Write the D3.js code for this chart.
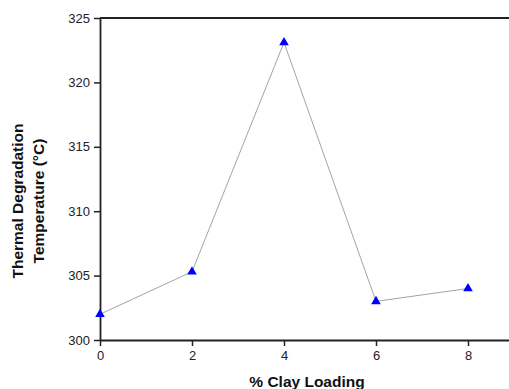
<!DOCTYPE html>
<html lang="en">
  <head>
    <meta charset="utf-8">
    <title>Thermal Degradation vs Clay Loading</title>
    <style>
      body { margin: 0; background: #fff; }
      svg { display: block; }
      .tick text { font-family: "Liberation Sans", Arial, sans-serif; font-size: 13px; fill: #222; }
      .axis-title { font-family: "Liberation Sans", Arial, sans-serif; font-weight: bold; fill: #111; }
    </style>
    <script src="https://d3js.org/d3.v7.min.js"></script>
  </head>
  <body>
    <script>
    const clayLoading = [0, 2, 4, 6, 8];
    const degradationTemp = [302.0, 305.3, 323.1, 303.0, 304.0];
    const xTicks = [0, 2, 4, 6, 8];
    const yTicks = [300, 305, 310, 315, 320, 325];

    const width = 509, height = 389;

    const svg = d3.select("body")
                  .append("svg")
                  .attr("width", width)
                  .attr("height", height)

    const x = d3.scaleLinear().domain([0, 9]).range([100, 514])
    const y = d3.scaleLinear().domain([300, 325]).range([340, 18])

    // top frame line
    svg.append("line")
      .attr("x1", x(0)).attr("x2", width)
      .attr("y1", y(325)).attr("y2", y(325))
      .attr("stroke", "#222")
      .attr("stroke-width", 1.8)

    const xAxis = svg.append("g")
      .attr("transform", `translate(0,${y(300)})`)
      .call(d3.axisBottom(x).tickValues(xTicks).tickSize(6).tickSizeOuter(0).tickPadding(5))
    const yAxis = svg.append("g")
      .attr("transform", `translate(${x(0)},0)`)
      .call(d3.axisLeft(y).tickValues(yTicks).tickSize(6).tickSizeOuter(0).tickPadding(4))

    svg.selectAll(".domain").attr("stroke", "#222").attr("stroke-width", 1.8)
    svg.selectAll(".tick line").attr("stroke", "#222").attr("stroke-width", 1.5)

    const line = d3.line()
      .x((d, i) => x(clayLoading[i]))
      .y(d => y(d))

    svg.append("path")
      .datum(degradationTemp)
      .attr("d", line)
      .attr("fill", "none")
      .attr("stroke", "#8c8c8c")
      .attr("stroke-width", 0.8)

    const tri = d3.symbol().type(d3.symbolTriangle).size(40)
    svg.append("g")
      .selectAll("path")
      .data(degradationTemp)
      .join("path")
      .attr("d", tri)
      .attr("transform", (d, i) => `translate(${x(clayLoading[i])},${y(d)})`)
      .attr("fill", "#0000ff")

    svg.append("text")
      .attr("class", "axis-title")
      .attr("x", 307)
      .attr("y", 387)
      .attr("text-anchor", "middle")
      .style("font-size", "15.5px")
      .text("% Clay Loading")

    const yt = svg.append("text")
      .attr("class", "axis-title")
      .attr("transform", "translate(0,201) rotate(-90)")
      .attr("text-anchor", "middle")
      .style("font-size", "15.5px")
    yt.append("tspan").attr("x", 0).attr("y", 23).text("Thermal Degradation")
    yt.append("tspan").attr("x", 0).attr("y", 44).text("Temperature (°C)")
    </script>
  </body>
</html>
